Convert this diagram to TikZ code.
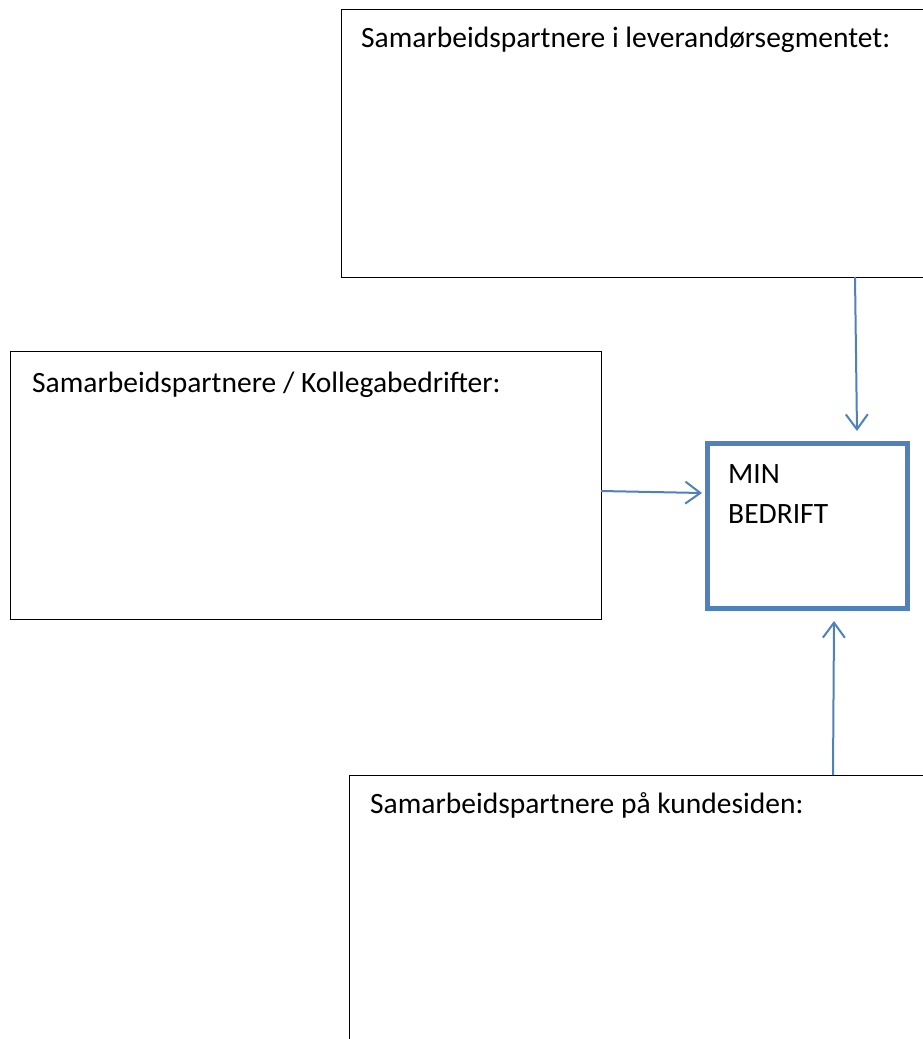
\documentclass[tikz,border=0pt]{standalone}
\usepackage{fontspec}
\setmainfont{Carlito}
\usetikzlibrary{arrows.meta}
\definecolor{officeblue}{HTML}{4F81BD}
\tikzset{
  partnerbox/.style={draw=black, line width=1.3pt, minimum width=#1, inner sep=0pt, anchor=north west},
  boxtext/.style={anchor=base west, inner sep=0pt, font=\fontsize{29.5}{36}\selectfont},
  mainbox/.style={draw=officeblue, line width=5pt, inner sep=0pt, anchor=north west, minimum width=200pt, minimum height=165pt},
  flow/.style={draw=officeblue, line width=2pt, -{Straight Barb[length=15pt,width=22pt,line width=2pt]}}
}
\begin{document}
\begin{tikzpicture}[x=1pt,y=-1pt]
\clip (0,0) rectangle (923,1039);
\fill[white] (0,0) rectangle (923,1039);
% boxes
\node[partnerbox=620pt, minimum height=268pt] (top) at (341,9) {};
\node[partnerbox=591pt, minimum height=268pt] (left) at (10,351) {};
\node[partnerbox=620pt, minimum height=300pt] (bottom) at (349,775) {};
\node[mainbox] (min) at (705,441) {};
% texts
\node[boxtext] (toptext) at (361,47) {Samarbeidspartnere i leverandørsegmentet:};
\node[boxtext] (lefttext) at (32,392) {Samarbeidspartnere / Kollegabedrifter:};
\node[boxtext] (bottomtext) at (370,813) {Samarbeidspartnere på kundesiden:};
\node[boxtext] (mintext1) at (728,483) {MIN};
\node[boxtext] (mintext2) at (728,523) {BEDRIFT};
% connectors
\coordinate (topstart) at (855,277);
\coordinate (topend) at (857,431);
\coordinate (leftstart) at (601,491);
\coordinate (leftend) at (702,493);
\coordinate (botstart) at (833,775);
\coordinate (botend) at (834,621);
\draw[flow] (topstart) -- (topend);
\draw[flow] (leftstart) -- (leftend);
\draw[flow] (botstart) -- (botend);
\end{tikzpicture}
\end{document}
